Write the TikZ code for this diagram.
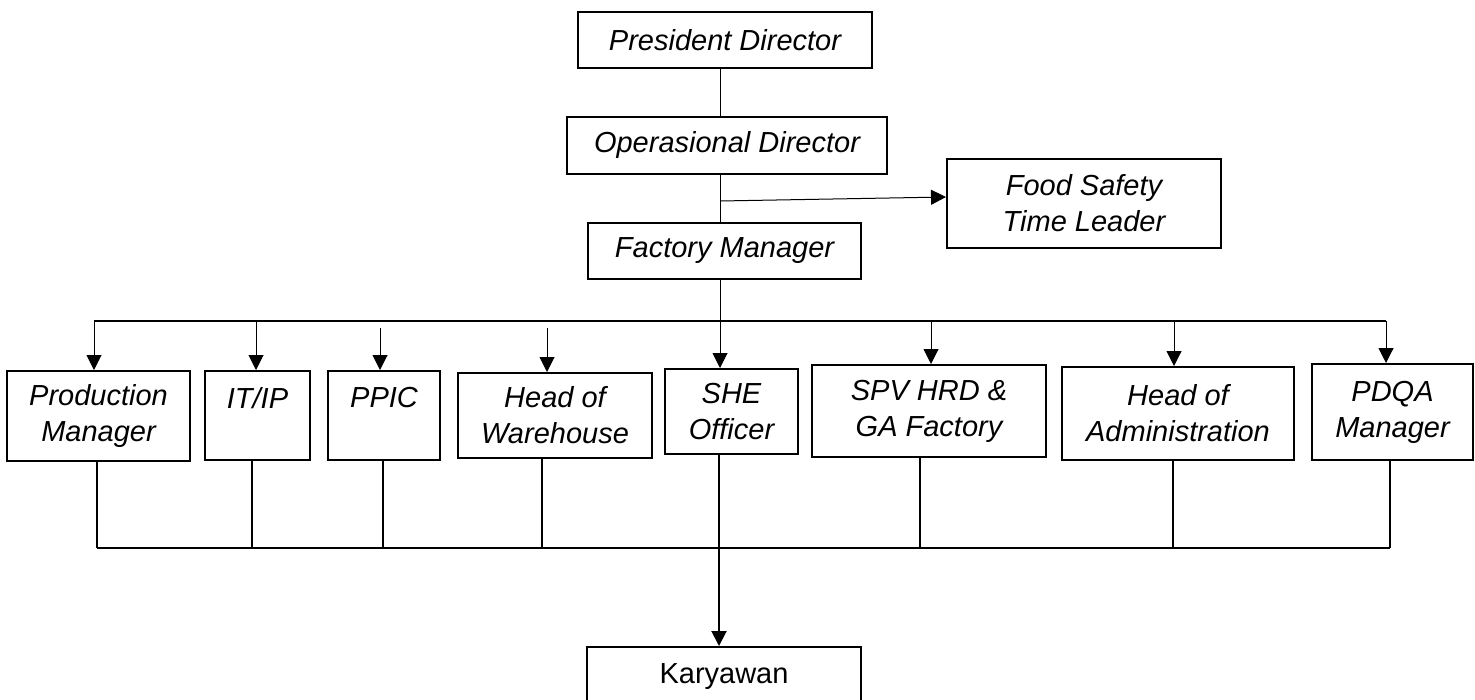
\documentclass[tikz,border=0pt]{standalone}
\usepackage{fontspec}
\setmainfont{Liberation Sans}
\usetikzlibrary{arrows.meta}
\begin{document}
\begin{tikzpicture}[x=0.5pt,y=-0.5pt,
  box/.style={draw, line width=1pt, inner sep=0pt, align=center,
    font=\fontsize{14.5}{18}\selectfont\itshape},
  plainbox/.style={box, font=\fontsize{14.5}{18}\selectfont},
  thinline/.style={line width=0.5pt},
  thickline/.style={line width=1pt},
  tip/.style={-{Triangle[length=7.5pt,width=7.5pt]}},
]
\clip (0,0) rectangle (1475,700);
\fill[white] (0,0) rectangle (1475,700);

% top chain
\node[box, minimum width=147pt, minimum height=28pt] (pres) at (725,40) {President Director};
\node[box, minimum width=160pt, minimum height=28.5pt] (ops) at (727,145.5) {Operasional Director};
\node[box, minimum width=136.5pt, minimum height=28pt] (fm) at (724.5,251) {Factory Manager};
\node[box, minimum width=137pt, minimum height=44.5pt] (fs) at (1084,203.5) {Food Safety\\Time Leader};

% row
\node[box, minimum width=91.5pt, minimum height=45pt] (pm) at (98.5,416) {Production\\Manager};
\node[box, minimum width=52.5pt, minimum height=44.5pt] (itip) at (257.5,415.5) {IT/IP\\\mbox{}};
\node[box, minimum width=56pt, minimum height=44.5pt] (ppic) at (384,415.5) {PPIC\\\mbox{}};
\node[box, minimum width=97pt, minimum height=42.5pt] (how) at (555,415.5) {Head of\\Warehouse};
\node[box, minimum width=66.5pt, minimum height=42.5pt] (she) at (731.5,411.5) {SHE\\Officer};
\node[box, minimum width=117pt, minimum height=46pt] (spv) at (929,411) {SPV HRD \&\\GA Factory};
\node[box, minimum width=116pt, minimum height=46.5pt] (hoa) at (1178,413.5) {Head of\\Administration};
\node[box, minimum width=80.5pt, minimum height=48pt] (pdqa) at (1392.5,412) {PDQA\\Manager};

\node[plainbox, minimum width=137pt, minimum height=30pt] (kar) at (724,677) {Karyawan};

% coordinates
\coordinate (cx) at (720,0);
\coordinate (brOps) at (720,201);
\coordinate (busL) at (94,321);
\coordinate (busR) at (1386,321);
\coordinate (botL) at (97,548);
\coordinate (botR) at (1390,548);

% top connectors
\draw[thinline] (pres.south -| cx) -- (ops.north -| cx);
\draw[thinline] (ops.south -| cx) -- (fm.north -| cx);
\draw[thinline, tip] (brOps) -- (fs.west |- 0,197);
\draw[thinline, tip] (fm.south -| cx) -- (she.north -| cx);

% top bus and arrows
\draw[thickline] (busL) -- (busR);
\draw[thinline, tip] (busL) -- (pm.north -| busL);
\draw[thinline, tip] (256,321) -- (itip.north -| 256,0);
\draw[thinline, tip] (380,328) -- (ppic.north -| 380,0);
\draw[thinline, tip] (547,328) -- (how.north -| 547,0);
\draw[thinline, tip] (931,321) -- (spv.north -| 931,0);
\draw[thinline, tip] (1174,321) -- (hoa.north -| 1174,0);
\draw[thinline, tip] (busR) -- (pdqa.north -| busR);

% bottom bus
\draw[thickline] (botL) -- (botR);
\draw[thickline] (pm.south -| botL) -- (botL);
\draw[thickline] (itip.south -| 252,0) -- (252,548);
\draw[thickline] (ppic.south -| 383,0) -- (383,548);
\draw[thickline] (how.south -| 542,0) -- (542,548);
\draw[thickline] (spv.south -| 920,0) -- (920,548);
\draw[thickline] (hoa.south -| 1173,0) -- (1173,548);
\draw[thickline] (pdqa.south -| botR) -- (botR);
\draw[thickline, tip] (she.south -| 719,0) -- (kar.north -| 719,0);
\end{tikzpicture}
\end{document}
